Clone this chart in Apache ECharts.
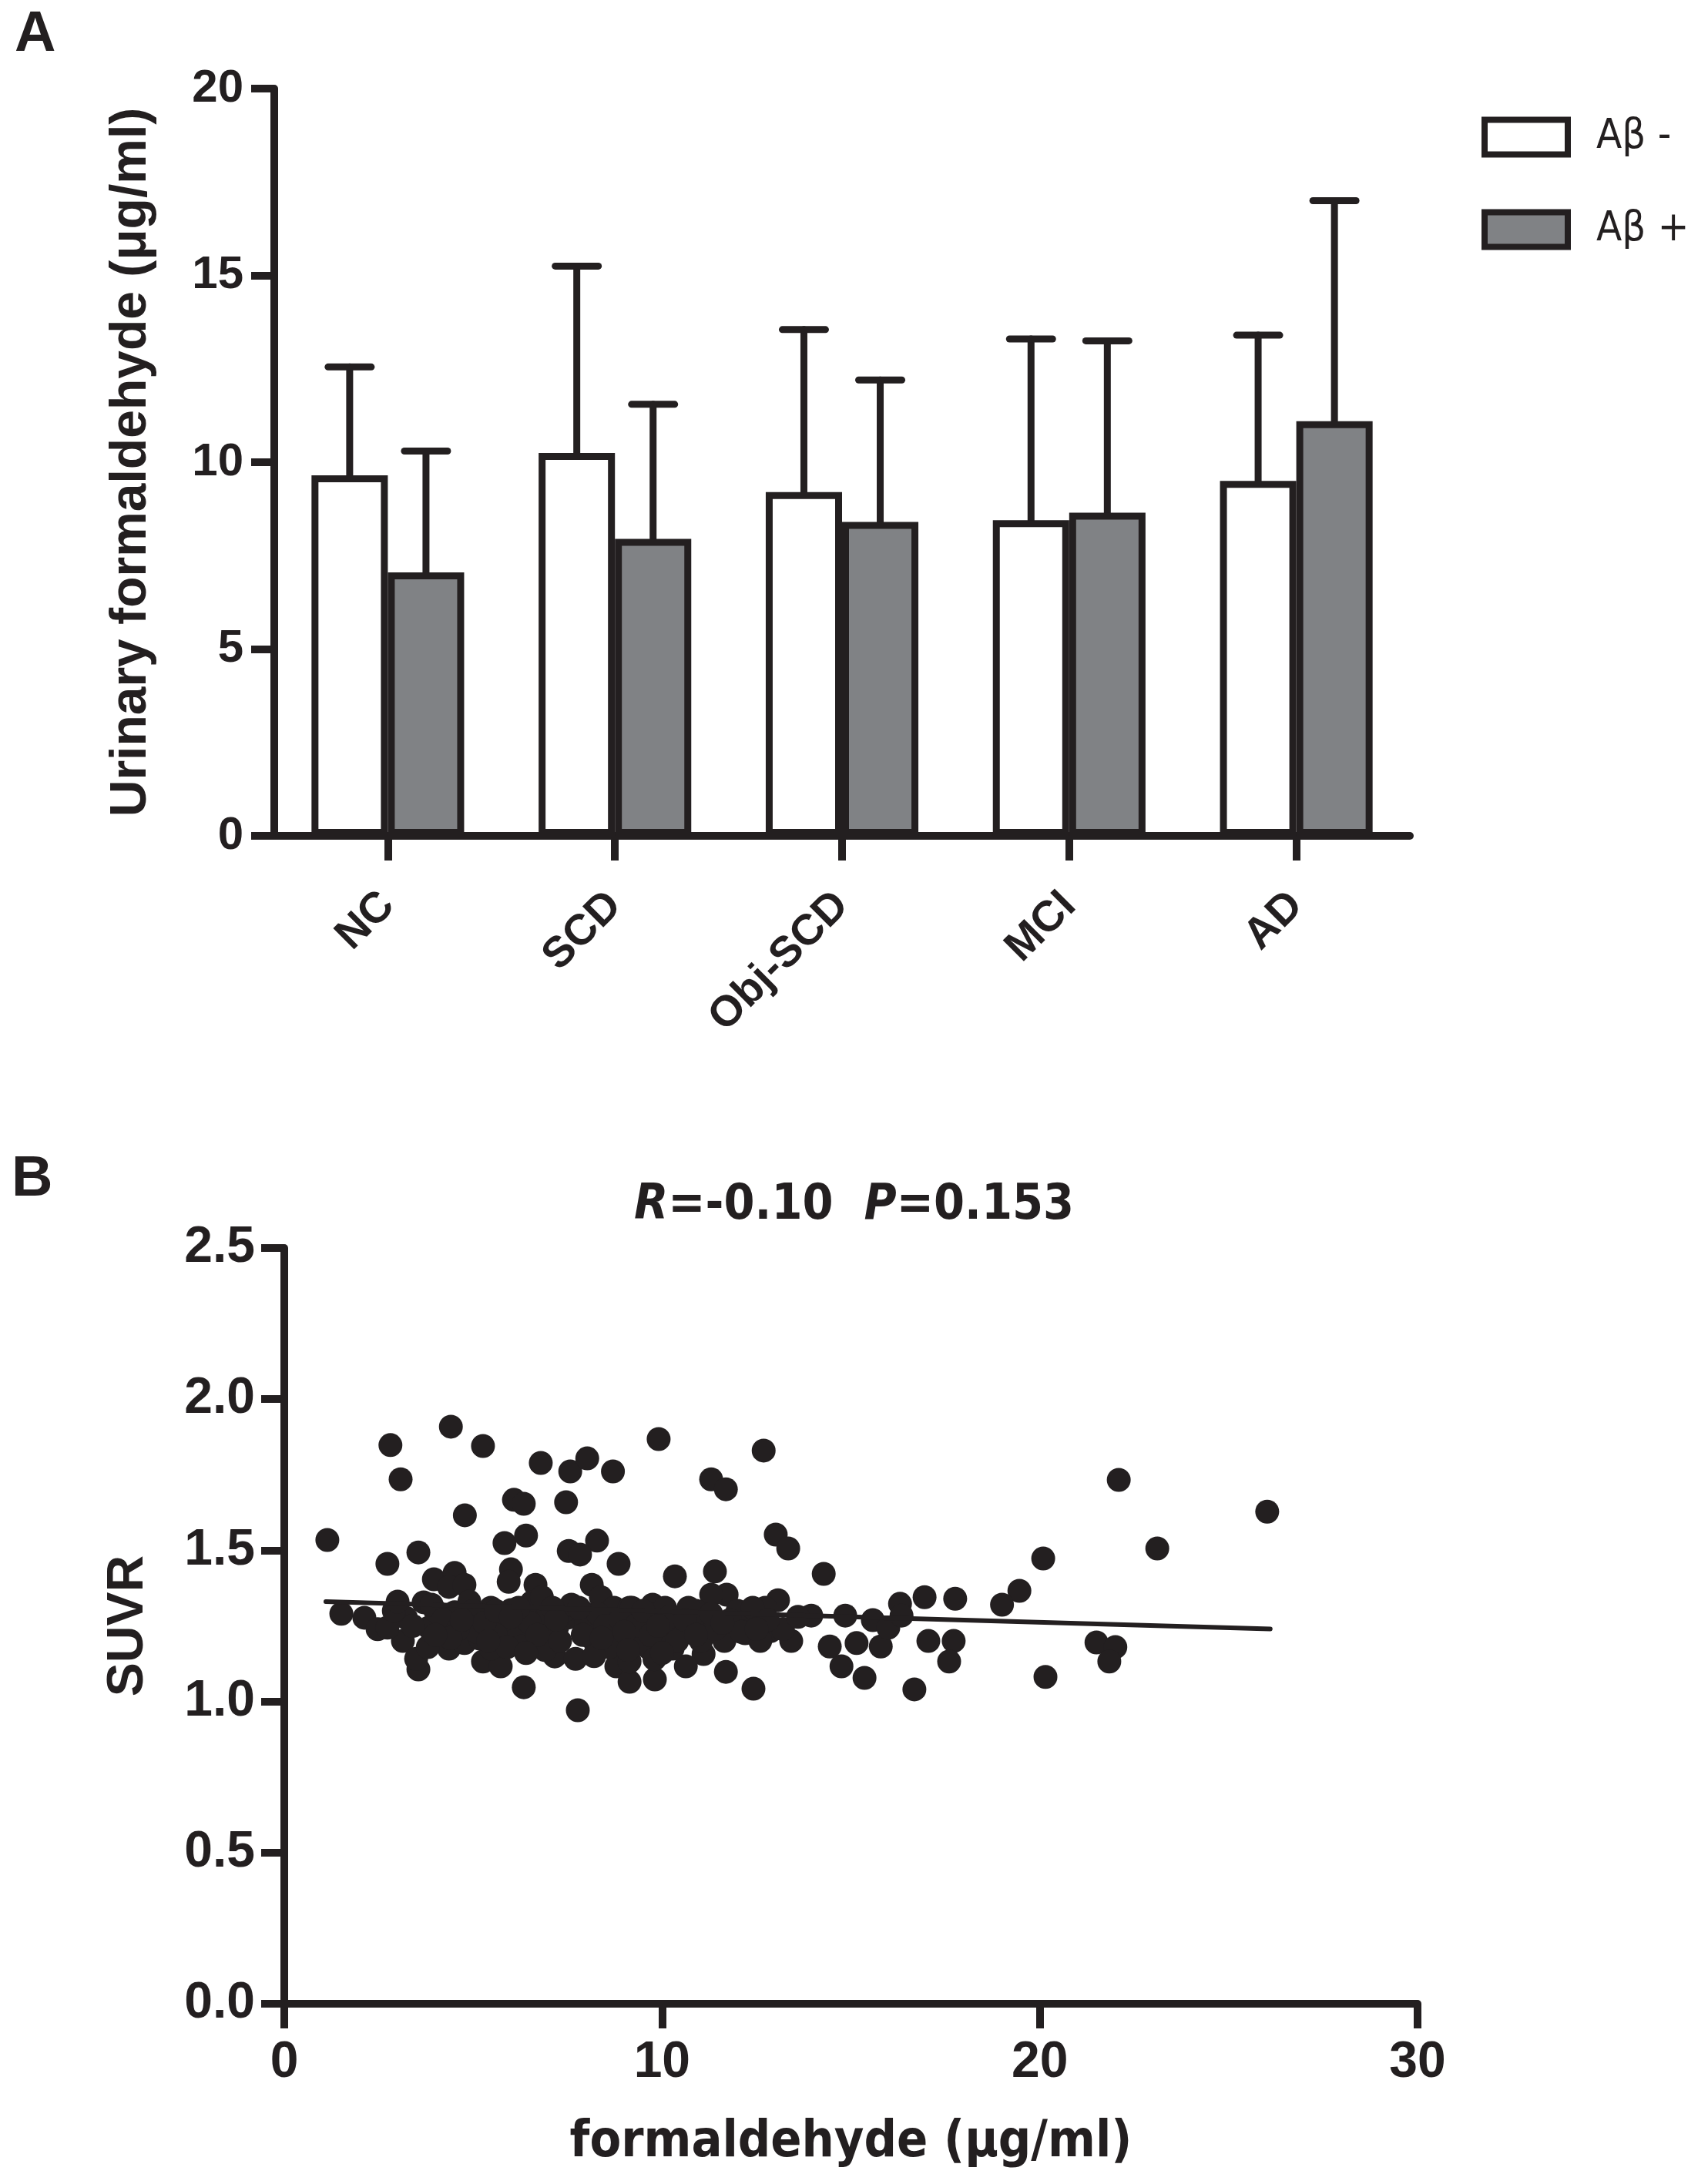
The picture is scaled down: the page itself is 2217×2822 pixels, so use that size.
<!DOCTYPE html>
<html>
<head>
<meta charset="utf-8">
<script src="https://cdn.jsdelivr.net/npm/echarts@6/dist/echarts.min.js"></script>
<style>
html,body{margin:0;padding:0;background:#fff;}
#c{width:2217px;height:2822px;}
</style>
</head>
<body>
<div id="c"></div>
<script>
// ---- Panel A data ----
const categories = ['NC', 'SCD', 'Obj-SCD', 'MCI', 'AD'];
const abNegMean  = [9.65, 10.25, 9.2, 8.45, 9.5];
const abNegUpper = [12.55, 15.25, 13.55, 13.3, 13.4];
const abPosMean  = [7.05, 7.95, 8.4, 8.65, 11.1];
const abPosUpper = [10.3, 11.55, 12.2, 13.25, 17.0];
const seriesNames = ['Aβ -', 'Aβ +'];

// ---- Panel B data ----
const formaldehyde = [
  1.14, 2.81, 3.08, 4.41, 5.26, 6.79, 7.57, 8.02, 8.70, 6.08, 6.34, 7.46, 4.78, 5.83, 6.40, 7.53, 8.28, 7.83, 8.85, 3.55,
  2.73, 6.00, 5.94, 3.96, 4.51, 6.65, 8.14, 1.51, 2.12, 2.47, 3.14, 3.55, 3.49, 4.36, 4.77, 5.26, 5.73, 6.34, 7.77, 7.16,
  7.71, 8.79, 9.14, 8.24, 4.51, 3.69, 3.22, 4.10, 5.06, 5.47, 6.00, 6.55, 6.82, 6.96, 7.50, 7.91, 8.38, 8.73, 9.14, 8.85,
  6.69, 7.22, 6.14, 4.36, 4.77, 3.83, 2.73, 5.47, 5.18, 8.04, 8.52, 6.28, 9.91, 12.69, 11.30, 11.69, 13.01, 13.34, 10.34, 11.40,
  14.28, 16.95, 17.76, 16.30, 17.05, 17.72, 17.60, 16.68, 15.36, 14.75, 12.42, 11.69, 15.15, 14.44, 15.79, 13.42, 14.85, 13.95, 15.58, 15.99,
  13.07, 12.73, 11.71, 11.30, 12.87, 12.20, 11.65, 11.10, 10.63, 9.81, 9.75, 10.08, 9.20, 9.46, 10.16, 9.67, 10.28, 10.83, 11.18, 8.93,
  10.57, 11.03, 9.14, 16.34, 22.09, 26.02, 23.11, 20.09, 19.46, 19.00, 21.50, 22.00, 21.84, 20.15,
  5.8, 7.0, 7.4, 8.0, 9.6, 10.5, 9.9, 8.6, 12.3, 12.0, 4.0, 3.4, 5.1, 4.9, 2.9, 10.9, 12.6, 9.4,
  3.0, 3.9, 4.2, 4.6, 5.0, 5.6, 5.9, 6.5, 6.9, 7.3, 7.6, 7.9, 8.3, 8.5, 8.9, 9.3, 9.5, 9.8, 10.2, 10.4,
  10.7, 11.0, 11.4, 11.8, 12.1, 12.4, 13.2, 13.6, 6.2, 5.3, 4.4, 3.8, 7.1, 8.2, 9.0, 9.7, 10.0, 10.6, 11.3, 12.8,
  5.6, 6.7, 4.0, 4.7, 5.4, 6.0, 6.4, 7.2, 7.8, 8.4, 9.1, 9.9, 10.9, 11.6, 12.5
];
const suvr = [
  1.534, 1.848, 1.735, 1.909, 1.845, 1.789, 1.761, 1.804, 1.761, 1.667, 1.654, 1.659, 1.616, 1.524, 1.549, 1.498, 1.532, 1.486, 1.455, 1.493,
  1.455, 1.437, 1.396, 1.404, 1.425, 1.386, 1.386, 1.29, 1.277, 1.239, 1.20, 1.106, 1.141, 1.175, 1.193, 1.132, 1.116, 1.047, 0.971, 1.149,
  1.141, 1.116, 1.065, 1.193, 1.295, 1.328, 1.277, 1.244, 1.277, 1.31, 1.302, 1.328, 1.345, 1.284, 1.277, 1.295, 1.345, 1.31, 1.31, 1.244,
  1.208, 1.244, 1.226, 1.379, 1.386, 1.244, 1.244, 1.175, 1.208, 1.218, 1.226, 1.182, 1.868, 1.830, 1.735, 1.702, 1.552, 1.506, 1.414, 1.43,
  1.422, 1.345, 1.34, 1.323, 1.20, 1.20, 1.132, 1.04, 1.078, 1.116, 1.042, 1.098, 1.193, 1.182, 1.182, 1.20, 1.284, 1.284, 1.269, 1.244,
  1.335, 1.31, 1.353, 1.353, 1.233, 1.226, 1.20, 1.157, 1.116, 1.073, 1.32, 1.31, 1.31, 1.244, 1.233, 1.175, 1.175, 1.244, 1.277, 1.20,
  1.284, 1.20, 1.132, 1.284, 1.733, 1.628, 1.506, 1.473, 1.366, 1.32, 1.195, 1.18, 1.132, 1.081,
  1.27, 1.22, 1.30, 1.26, 1.27, 1.23, 1.21, 1.18, 1.27, 1.30, 1.30, 1.25, 1.23, 1.33, 1.30, 1.30, 1.20, 1.19,
  1.33, 1.32, 1.27, 1.24, 1.30, 1.22, 1.18, 1.26, 1.17, 1.20, 1.32, 1.22, 1.29, 1.25, 1.27, 1.25, 1.30, 1.14, 1.28, 1.20,
  1.31, 1.25, 1.24, 1.27, 1.23, 1.31, 1.24, 1.28, 1.31, 1.26, 1.21, 1.18, 1.31, 1.15, 1.23, 1.22, 1.16, 1.27, 1.29, 1.27,
  1.30, 1.22, 1.22, 1.27, 1.20, 1.28, 1.16, 1.27, 1.31, 1.21, 1.17, 1.25, 1.22, 1.26, 1.24
];
const fitX = [1.1, 26.1];
const fitY = [1.33, 1.24];
const statR = '-0.10';
const statP = '0.153';

const INK = '#231f20';
const GRAY = '#808285';
const SANS = "'Liberation Sans', Arial, sans-serif";
const NARROW = "'Liberation Sans Narrow', 'Arial Narrow', 'DejaVu Sans Condensed', sans-serif";
const BAR_FRAC = 0.336;

function errorSeries(means, uppers, sign) {
  return {
    type: 'custom',
    xAxisIndex: 0, yAxisIndex: 0,
    data: categories.map((c, i) => [i, means[i], uppers[i]]),
    encode: { x: 0, y: [1, 2] },
    z: 1,
    silent: true,
    renderItem: function (params, api) {
      const i = api.value(0);
      const base = api.coord([i, api.value(1)]);
      const top = api.coord([i, api.value(2)]);
      const band = api.size([1, 0])[0];
      const cx = base[0] + sign * band * BAR_FRAC / 2;
      const cap = 28;
      const st = { stroke: INK, lineWidth: 9, lineCap: 'round' };
      return {
        type: 'group',
        children: [
          { type: 'line', shape: { x1: cx, y1: base[1], x2: cx, y2: top[1] }, style: st },
          { type: 'line', shape: { x1: cx - cap, y1: top[1], x2: cx + cap, y2: top[1] }, style: st }
        ]
      };
    }
  };
}

const chart = echarts.init(document.getElementById('c'), null, { renderer: 'canvas' });
const option = {
  backgroundColor: '#ffffff',
  animation: false,
  title: [
    { text: 'A', left: 14, top: 4, textStyle: { fontFamily: SANS, fontWeight: 'bold', fontSize: 74, color: INK } },
    { text: 'B', left: 10, top: 1490, textStyle: { fontFamily: SANS, fontWeight: 'bold', fontSize: 74, color: INK } },
    {
      text: '{i|R}{n|=' + statR + '}{s| }{i|P}{n|=' + statP + '}',
      left: 'center', top: 1528,
      textStyle: {
        rich: {
          i: { fontFamily: NARROW, fontWeight: 'bold', fontStyle: 'italic', fontSize: 64, color: INK },
          n: { fontFamily: NARROW, fontWeight: 'bold', fontSize: 64, color: INK },
          s: { fontFamily: NARROW, fontSize: 64, width: 40 }
        }
      }
    }
  ],
  legend: {
    orient: 'vertical',
    left: 1918, top: 146,
    itemWidth: 108, itemHeight: 45, itemGap: 66,
    icon: 'rect',
    selectedMode: false,
    textStyle: { fontFamily: NARROW, fontSize: 54, color: INK, padding: [0, 0, 0, 32] },
    data: [
      { name: seriesNames[0], itemStyle: { color: '#ffffff', borderColor: INK, borderWidth: 8 } },
      { name: seriesNames[1], itemStyle: { color: GRAY, borderColor: INK, borderWidth: 8 } }
    ]
  },
  grid: [
    { left: 356, top: 115, width: 1474, height: 970, containLabel: false, outerBoundsMode: 'none' },
    { left: 369, top: 1620, width: 1471, height: 981, containLabel: false, outerBoundsMode: 'none' }
  ],
  xAxis: [
    {
      gridIndex: 0, type: 'category', data: categories, boundaryGap: true,
      axisLine: { show: true, lineStyle: { color: INK, width: 10 } },
      axisTick: { show: true, alignWithLabel: true, length: 32, lineStyle: { color: INK, width: 10 } },
      axisLabel: { rotate: 45, margin: 82, fontFamily: SANS, fontWeight: 'bold', fontSize: 56, color: INK, interval: 0 },
      splitLine: { show: false }
    },
    {
      gridIndex: 1, type: 'value', min: 0, max: 30, interval: 10,
      name: 'formaldehyde (μg/ml)', nameLocation: 'middle', nameGap: 148,
      nameTextStyle: { fontFamily: NARROW, fontWeight: 'bold', fontSize: 66, color: INK },
      axisLine: { show: true, onZero: false, lineStyle: { color: INK, width: 10 } },
      axisTick: { show: true, length: 32, lineStyle: { color: INK, width: 10 } },
      axisLabel: { margin: 44, fontFamily: SANS, fontWeight: 'bold', fontSize: 66, color: INK },
      splitLine: { show: false }
    }
  ],
  yAxis: [
    {
      gridIndex: 0, type: 'value', min: 0, max: 20, interval: 5,
      name: 'Urinary formaldehyde (μg/ml)', nameLocation: 'middle', nameGap: 152, nameRotate: 90,
      nameTextStyle: { fontFamily: SANS, fontWeight: 'bold', fontSize: 66, color: INK },
      axisLine: { show: true, onZero: false, lineStyle: { color: INK, width: 10 } },
      axisTick: { show: true, length: 30, lineStyle: { color: INK, width: 10 } },
      axisLabel: { margin: 40, fontFamily: SANS, fontWeight: 'bold', fontSize: 60, color: INK },
      splitLine: { show: false }
    },
    {
      gridIndex: 1, type: 'value', min: 0, max: 2.5, interval: 0.5,
      name: 'SUVR', nameLocation: 'middle', nameGap: 169, nameRotate: 90,
      nameTextStyle: { fontFamily: SANS, fontWeight: 'bold', fontSize: 66, color: INK },
      axisLine: { show: true, onZero: false, lineStyle: { color: INK, width: 10 } },
      axisTick: { show: true, length: 30, lineStyle: { color: INK, width: 10 } },
      axisLabel: { margin: 38, fontFamily: SANS, fontWeight: 'bold', fontSize: 66, color: INK,
        formatter: function (v) { return v.toFixed(1); } },
      splitLine: { show: false }
    }
  ],
  series: [
    errorSeries(abNegMean, abNegUpper, -1),
    errorSeries(abPosMean, abPosUpper, 1),
    {
      type: 'bar', name: seriesNames[0], xAxisIndex: 0, yAxisIndex: 0,
      data: abNegMean, barWidth: (BAR_FRAC * 100) + '%', barGap: '0%', z: 2,
      itemStyle: { color: '#ffffff', borderColor: INK, borderWidth: 9 }
    },
    {
      type: 'bar', name: seriesNames[1], xAxisIndex: 0, yAxisIndex: 0,
      data: abPosMean, barWidth: (BAR_FRAC * 100) + '%', barGap: '0%', z: 2,
      itemStyle: { color: GRAY, borderColor: INK, borderWidth: 9 }
    },
    {
      type: 'scatter', xAxisIndex: 1, yAxisIndex: 1,
      data: formaldehyde.map((x, i) => [x, suvr[i]]),
      symbol: 'circle', symbolSize: 31,
      itemStyle: { color: INK, opacity: 1 }
    },
    {
      type: 'line', xAxisIndex: 1, yAxisIndex: 1,
      data: fitX.map((x, i) => [x, fitY[i]]),
      showSymbol: false, symbol: 'none',
      lineStyle: { color: INK, width: 6, cap: 'round' }, z: 3
    }
  ]
};
chart.setOption(option);
</script>
</body>
</html>
